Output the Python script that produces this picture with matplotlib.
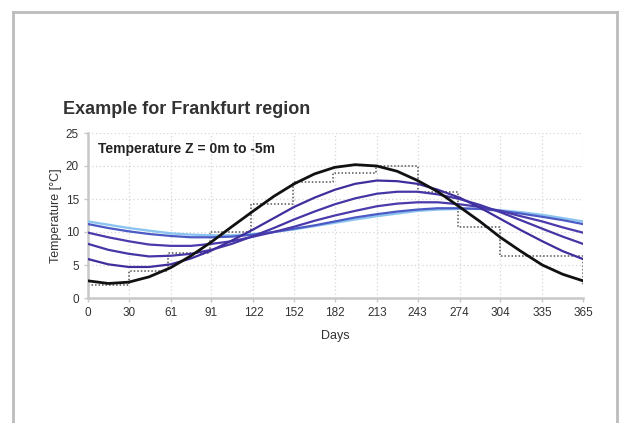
import matplotlib
matplotlib.use("Agg")
import matplotlib.pyplot as plt
from matplotlib.lines import Line2D

plt.rcParams['font.family'] = ['Liberation Sans Narrow', 'Liberation Sans', 'DejaVu Sans']

# days sampled about every half month
days = [0, 15, 30, 45, 61, 76, 91, 106, 122, 137, 152, 167, 182, 197, 213,
        228, 243, 258, 274, 289, 304, 319, 335, 350, 365]

# surface (Z = 0m)
t_surface = [2.6, 2.2, 2.4, 3.2, 4.6, 6.4, 8.5, 10.8, 13.2, 15.4, 17.3, 18.8, 19.8,
             20.2, 20.0, 19.2, 17.8, 16.1, 13.8, 11.6, 9.2, 7.1, 5.0, 3.6, 2.6]
# deeper layers, shallow -> deep
t_1m = [5.9, 5.1, 4.7, 4.7, 5.1, 6.0, 7.2, 8.7, 10.4, 12.1, 13.8, 15.2, 16.4,
        17.3, 17.8, 17.7, 17.3, 16.4, 15.2, 13.7, 12.0, 10.3, 8.6, 7.1, 5.9]
t_2m = [8.2, 7.3, 6.7, 6.3, 6.4, 6.7, 7.3, 8.2, 9.4, 10.6, 11.9, 13.1, 14.2,
        15.1, 15.8, 16.1, 16.1, 15.7, 15.0, 14.1, 13.0, 11.8, 10.5, 9.3, 8.2]
t_3m = [9.9, 9.2, 8.6, 8.1, 7.9, 7.9, 8.2, 8.6, 9.3, 10.0, 10.8, 11.7, 12.5,
        13.2, 13.9, 14.3, 14.5, 14.5, 14.2, 13.8, 13.2, 12.4, 11.6, 10.7, 9.9]
t_4m = [11.2, 10.6, 10.1, 9.7, 9.4, 9.2, 9.2, 9.3, 9.6, 10.0, 10.5, 11.0, 11.6,
        12.2, 12.7, 13.1, 13.4, 13.6, 13.6, 13.5, 13.2, 12.8, 12.3, 11.8, 11.2]
t_5m = [11.6, 11.1, 10.6, 10.2, 9.8, 9.6, 9.5, 9.5, 9.7, 10.0, 10.4, 10.9, 11.4,
        11.9, 12.4, 12.8, 13.2, 13.4, 13.5, 13.5, 13.3, 13.0, 12.6, 12.1, 11.6]

# monthly mean air temperature (step line)
month_edges = [0, 30, 59, 90, 120, 151, 181, 212, 243, 273, 304, 334, 365]
month_temp = [2.0, 4.1, 6.8, 10.0, 14.3, 17.6, 19.0, 20.0, 16.0, 10.8, 6.4, 6.3]

xticks = [0, 30, 61, 91, 122, 152, 182, 213, 243, 274, 304, 335, 365]
yticks = [0, 5, 10, 15, 20, 25]

fig = plt.figure(figsize=(6.2, 4.23), dpi=100)
ax = fig.add_axes([88/620, 1-298/423, (583-88)/620, (298-133)/423])

# outer frame (open at bottom)
fc = '#bcbcbc'
fig.add_artist(Line2D([13/620, 13/620], [0, 1-12/423], color=fc, lw=2, transform=fig.transFigure))
fig.add_artist(Line2D([13/620, 617/620], [1-12/423, 1-12/423], color=fc, lw=2, transform=fig.transFigure))
fig.add_artist(Line2D([617/620, 617/620], [0, 1-12/423], color=fc, lw=2, transform=fig.transFigure))

ax.step(month_edges, month_temp + [month_temp[0]], where='post', color='#555555',
        lw=1.1, linestyle=(0, (1, 1.3)), zorder=2)

ax.plot(days, t_5m, color='#8cc4f0', lw=1.7, zorder=3)
ax.plot(days, t_4m, color='#4b5ac4', lw=1.6, zorder=3)
ax.plot(days, t_3m, color='#4a3aac', lw=1.6, zorder=3)
ax.plot(days, t_2m, color='#4536a6', lw=1.6, zorder=3)
ax.plot(days, t_1m, color='#3f2e9c', lw=1.6, zorder=3)
ax.plot(days, t_surface, color='#111111', lw=2.0, zorder=4)

ax.set_xlim(0, 365)
ax.set_ylim(0, 25)
ax.set_xticks(xticks)
ax.set_yticks(yticks)
ax.tick_params(labelsize=8.5, colors='#333333', length=3, width=1, color='#c8c8c8')
ax.grid(True, color='#d6d6d6', linestyle=(0, (1, 2)), lw=0.9)
ax.set_axisbelow(True)
for s in ['top', 'right']:
    ax.spines[s].set_visible(False)
for s in ['left', 'bottom']:
    ax.spines[s].set_color('#c8c8c8')
    ax.spines[s].set_linewidth(1.8)

ax.set_xlabel('Days', fontsize=9, color='#333333', labelpad=8)
ax.set_ylabel('Temperature [°C]', fontsize=9, color='#333333', labelpad=3)

ax.text(0.02, 0.905, 'Temperature Z = 0m to -5m', transform=ax.transAxes,
        fontsize=10, fontweight='bold', color='#222222', va='center')
fig.text(63/620, 1-110/423, 'Example for Frankfurt region', fontsize=13,
         fontweight='bold', color='#333333', va='center')

fig.savefig('out.png', dpi=100)
